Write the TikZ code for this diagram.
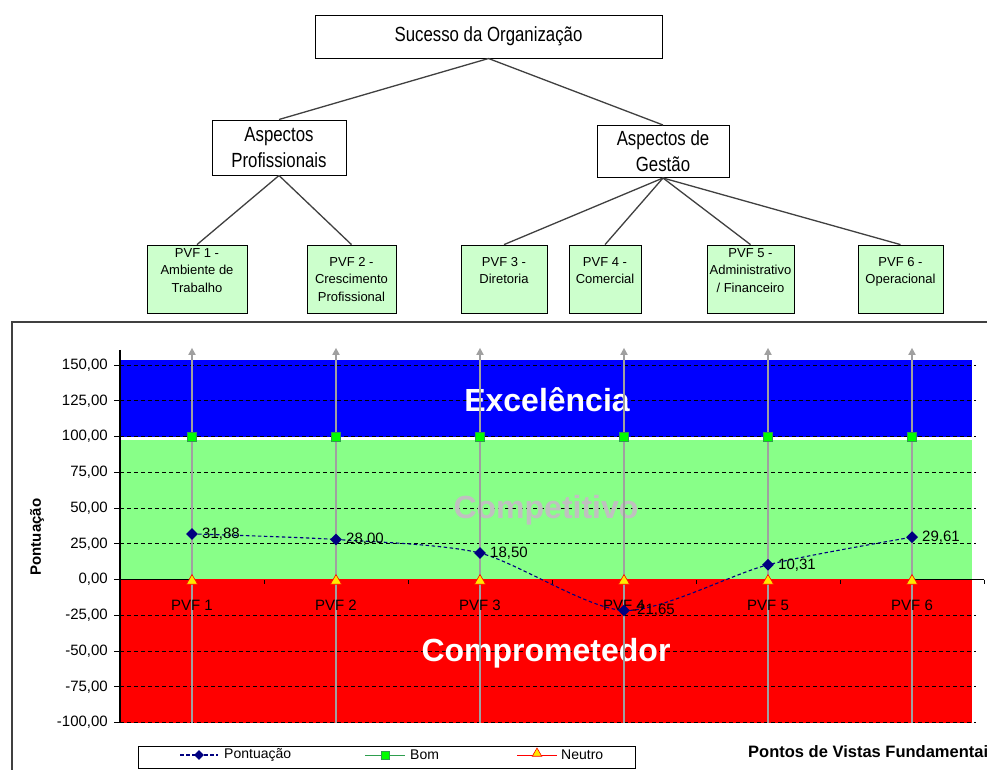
\documentclass[tikz,border=0pt]{standalone}
\usepackage{fontspec}
\setmainfont{Liberation Sans}
\newfontfamily\narrowsans[FakeStretch=0.82]{Liberation Sans}
\usetikzlibrary{arrows.meta, shapes.geometric}

\definecolor{bandblue}{HTML}{0000FF}
\definecolor{bandgreen}{HTML}{88FF88}
\definecolor{bandred}{HTML}{FF0000}
\definecolor{pvffill}{HTML}{CCFFCC}
\definecolor{seriesnavy}{HTML}{000080}
\definecolor{bomgreen}{HTML}{00FF00}
\definecolor{bomedge}{HTML}{2E9E4E}
\definecolor{axisgray}{HTML}{A0A0A0}
\definecolor{labelgray}{HTML}{C0C0C0}
\definecolor{linegray}{HTML}{404040}
\definecolor{neutroyellow}{HTML}{FFE800}

\begin{document}
\begin{tikzpicture}[x=1pt, y=-1pt,
  treebox/.style={draw=black, line width=1pt, fill=white, inner sep=0pt, align=center,
    font=\narrowsans\fontsize{20.5}{26}\selectfont},
  treeline/.style={draw=linegray, line width=1.3pt},
  pvfbox/.style={draw=black, line width=0.8pt, fill=pvffill, minimum height=68pt, inner sep=0pt},
  pvftext/.style={align=center, inner sep=0pt, anchor=north, font=\fontsize{13}{17.5}\selectfont},
  gridline/.style={black, line width=0.9pt, dash pattern=on 4pt off 3pt},
  ticklabel/.style={anchor=east, inner sep=0pt, font=\fontsize{15}{18}\selectfont},
  catlabel/.style={inner sep=0pt, font=\fontsize{15}{18}\selectfont},
  valuelabel/.style={anchor=west, inner sep=0pt, font=\fontsize{15}{18}\selectfont},
  pvfarrow/.style={axisgray, line width=1.8pt, -{Triangle[length=7pt, width=7pt]}},
  bigzone/.style={inner sep=0pt, font=\bfseries\fontsize{32}{36}\selectfont},
  bommark/.style={rectangle, draw=bomedge, line width=0.6pt, fill=bomgreen,
    minimum size=9pt, inner sep=0pt},
  neutromark/.style={regular polygon, regular polygon sides=3, draw=red, line width=0.6pt,
    fill=neutroyellow, minimum size=13pt, inner sep=0pt},
  pontmark/.style={diamond, fill=seriesnavy, minimum size=12pt, inner sep=0pt},
  legendtext/.style={anchor=west, inner sep=0pt, font=\fontsize{14}{16}\selectfont}
]
\useasboundingbox (0,0) rectangle (987,769);
\fill[white] (0,0) rectangle (987,769);

% ---------- value tree ----------
\node[treebox, minimum width=347pt, minimum height=43pt] (root) at (488.5,36.5) {Sucesso da Organização};
\node[treebox, minimum width=134pt, minimum height=55pt] (ap) at (279,147.5) {Aspectos\\Profissionais};
\node[treebox, minimum width=132pt, minimum height=52pt] (ag) at (663,151.5) {Aspectos de\\Gestão};

\node[pvfbox, minimum width=100pt] (pvf1) at (197,279) {};
\node[pvfbox, minimum width=89pt]  (pvf2) at (351.5,279) {};
\node[pvfbox, minimum width=86pt]  (pvf3) at (504,279) {};
\node[pvfbox, minimum width=72pt]  (pvf4) at (605,279) {};
\node[pvfbox, minimum width=87pt]  (pvf5) at (750.5,279) {};
\node[pvfbox, minimum width=85pt]  (pvf6) at (900.5,279) {};

\node[pvftext] (pvf1t) at (197,248) {PVF 1 -\\Ambiente de\\Trabalho};
\node[pvftext] (pvf2t) at (351.5,257) {PVF 2 -\\Crescimento\\Profissional};
\node[pvftext] (pvf3t) at (504,257) {PVF 3 -\\Diretoria};
\node[pvftext] (pvf4t) at (605,257) {PVF 4 -\\Comercial};
\node[pvftext] (pvf5t) at (750.5,248) {PVF 5 -\\Administrativo\\/ Financeiro};
\node[pvftext] (pvf6t) at (900.5,257) {PVF 6 -\\Operacional};

\draw[treeline] (root.south) -- (ap.north);
\draw[treeline] (root.south) -- (ag.north);
\draw[treeline] (ap.south) -- (pvf1.north);
\draw[treeline] (ap.south) -- (pvf2.north);
\draw[treeline] (ag.south) -- (pvf3.north);
\draw[treeline] (ag.south) -- (pvf4.north);
\draw[treeline] (ag.south) -- (pvf5.north);
\draw[treeline] (ag.south) -- (pvf6.north);

% ---------- chart frame ----------
\draw[linegray, line width=1.5pt] (12,322) rectangle (1010,800);

% y title
\node[rotate=90, inner sep=0pt, font=\bfseries\fontsize{15}{17}\selectfont] (ytitle) at (37,537) {Pontuação};

% ---------- plot area (value units upward) ----------
\begin{scope}[shift={(0,579.5)}, y=1.43pt]
  % zones
  \fill[bandblue]  (120,153.5) rectangle (972,100);
  \fill[bandgreen] (120,97.6)  rectangle (972,0);
  \fill[bandred]   (120,0)     rectangle (972,-100);

  % grid
  \foreach \v in {150,125,100,75,50,25,-25,-50,-75,-100}
    \draw[gridline] (120,\v) -- (976,\v);

  % y axis
  \draw[black, line width=1.2pt] (120,160.5) -- (120,-100);
  \foreach \v/\t in {150/{150,00},125/{125,00},100/{100,00},75/{75,00},50/{50,00},25/{25,00},
                     0/{0,00},-25/{-25,00},-50/{-50,00},-75/{-75,00},-100/{-100,00}} {
    \draw[black, line width=1pt] (114,\v) -- (120,\v);
    \node[ticklabel] at (108,\v) {\t};
  }

  % x axis
  \draw[black, line width=1.2pt] (120,0) -- (984,0);
  \foreach \x in {264,408,552,696,840,984}
    \draw[black, line width=1pt] (\x,0) -- ++(0pt,-4pt);

  % zone names
  \node[bigzone, white] (zexc) at (547,125.5) {Excelência};
  \node[bigzone, labelgray] (zcomp) at (546,48.6) {Competitivo};
  \node[bigzone, white] (zcompr) at (546,-51.4) {Comprometedor};

  % vertical guides for each PVF
  \foreach \x in {192,336,480,624,768,912}
    \draw[pvfarrow] (\x,-100) -- (\x,162);

  % Neutro series
  \draw[red, line width=1pt] (192,0) -- (912,0);
  \foreach \x in {192,336,480,624,768,912}
    \node[neutromark, yshift=-1.5pt] at (\x,0) {};

  % Bom series
  \foreach \x in {192,336,480,624,768,912}
    \node[bommark] at (\x,100) {};

  % category labels
  \foreach \x/\n in {192/1,336/2,480/3,624/4,768/5,912/6}
    \node[catlabel] at (\x,-17.8) {PVF \n};

  % Pontuação series
  \coordinate (p1) at (192,31.88);
  \coordinate (p2) at (336,28.00);
  \coordinate (p3) at (480,18.50);
  \coordinate (p4) at (624,-21.65);
  \coordinate (p5) at (768,10.31);
  \coordinate (p6) at (912,29.61);
  \draw[seriesnavy, line width=1.1pt, dash pattern=on 3.5pt off 2.5pt]
    plot[smooth, tension=0.45] coordinates {(p1) (p2) (p3) (p4) (p5) (p6)};
  \foreach \p in {p1,p2,p3,p4,p5,p6}
    \node[pontmark] at (\p) {};
  \node[valuelabel] at ([xshift=10pt]p1) {31,88};
  \node[valuelabel] at ([xshift=10pt]p2) {28,00};
  \node[valuelabel] at ([xshift=10pt]p3) {18,50};
  \node[valuelabel] at ([xshift=8pt]p4) {-21,65};
  \node[valuelabel] at ([xshift=10pt]p5) {10,31};
  \node[valuelabel] at ([xshift=10pt]p6) {29,61};
\end{scope}

% ---------- legend ----------
\node[draw=black, line width=1pt, fill=white, minimum width=497pt, minimum height=22pt, inner sep=0pt]
  (legend) at (386.5,757) {};
\draw[seriesnavy, line width=1.1pt, dash pattern=on 3.5pt off 2.5pt] (180,755) -- (218,755);
\node[pontmark, minimum size=10pt] (legp) at (199,755) {};
\node[legendtext] at (224,755) {Pontuação};
\draw[bomedge, line width=1pt] (365,755) -- (405,755);
\node[bommark, minimum size=8pt] (legb) at (385,755) {};
\node[legendtext] at (410,755) {Bom};
\draw[red, line width=1pt] (517,755) -- (557,755);
\node[neutromark, minimum size=11pt, yshift=1.5pt] (legn) at (537,755) {};
\node[legendtext] at (561,755) {Neutro};

% x title
\node[anchor=west, inner sep=0pt, font=\bfseries\fontsize{16.5}{19}\selectfont] (xtitle) at (748,752)
  {Pontos de Vistas Fundamentais};
\end{tikzpicture}
\end{document}
